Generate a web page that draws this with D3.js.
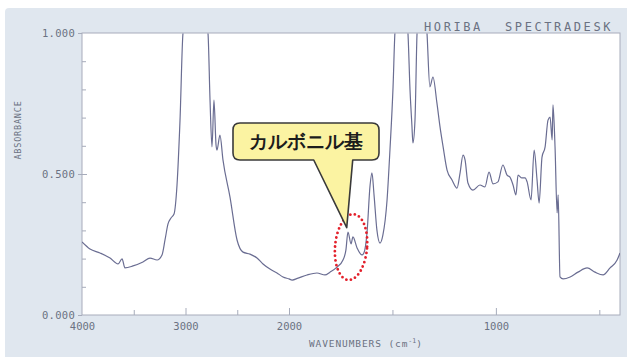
<!DOCTYPE html>
<html>
<head>
<meta charset="utf-8">
<script src="https://cdn.jsdelivr.net/npm/d3@7"></script>
<style>
  html, body { margin: 0; padding: 0; background: #ffffff; }
  svg { display: block; }
  text { font-family: "DejaVu Sans Mono", "Liberation Mono", monospace; }
</style>
</head>
<body>
<svg id="chart" width="627" height="357"></svg>
<script>
// ---- data ----
const wavenumbers = [4000,3923,3826,3729,3652,3613,3585,3507,3411,3343,3275,3227,3198,3169,3140,3111,3082,3053,3024,2900,2783,2763,2744,2725,2705,2696,2667,2638,2570,2502,2444,2377,2309,2251,2184,2116,2058,2000,1985,1956,1913,1865,1826,1802,1768,1739,1725,1715,1700,1691,1671,1647,1638,1623,1608,1599,1589,1575,1560,1546,1526,1512,1497,1488,1455,1425,1415,1406,1401,1391,1381,1357,1333,1319,1304,1285,1270,1255,1236,1212,1188,1173,1159,1149,1135,1111,1077,1053,1033,1014,990,966,946,932,917,903,893,874,859,849,830,815,801,791,777,762,748,738,728,724,714,704,699,690,675,641,603,559,521,482,448,414,400];
const absorbance  = [0.259,0.234,0.220,0.202,0.181,0.199,0.167,0.174,0.188,0.202,0.195,0.213,0.266,0.323,0.344,0.358,0.461,0.691,1.000,1.200,1.000,0.762,0.596,0.762,0.603,0.585,0.638,0.550,0.418,0.266,0.223,0.216,0.202,0.181,0.163,0.149,0.135,0.128,0.124,0.131,0.142,0.149,0.142,0.152,0.170,0.195,0.230,0.294,0.252,0.277,0.238,0.213,0.220,0.291,0.461,0.504,0.426,0.301,0.255,0.284,0.408,0.585,0.809,1.000,1.200,1.000,0.798,0.674,0.610,0.691,1.000,1.200,1.000,0.809,0.844,0.752,0.667,0.596,0.514,0.479,0.450,0.504,0.567,0.550,0.468,0.443,0.461,0.454,0.507,0.465,0.472,0.532,0.496,0.489,0.461,0.426,0.496,0.486,0.486,0.472,0.408,0.585,0.479,0.397,0.560,0.596,0.691,0.702,0.621,0.745,0.596,0.362,0.426,0.135,0.128,0.135,0.152,0.167,0.152,0.142,0.167,0.195,0.220];

const xBreaks      = [4000, 2000, 400];          // split wavenumber axis
const xMajorTicks  = [3000, 2000, 1000];
const xMinorTicks  = [3500, 2500, 1500, 500];
const xTickLabels  = [4000, 3000, 2000, 1000];
const yMajorTicks  = [0, 0.5, 1];
const yMinorTicks  = [0.1, 0.2, 0.3, 0.4, 0.6, 0.7, 0.8, 0.9];

const calloutText   = "カルボニル基";
const calloutTarget = [1721, 0.31];   // wavenumber, absorbance at pointer tip
const ellipseCenter = [1700, 0.241];

// ---- layout ----
const svg = d3.select("#chart");
const pL = 82, pR = 620, pT = 33, pB = 315;

const x = d3.scaleLinear().domain(xBreaks).range([pL, 289, pR]);
const y = d3.scaleLinear().domain([0, 1]).range([pB, pT]);

const textCol = "#6b7282";
const frameCol = "#a7acbb";

// panel background
svg.append("rect").attr("x", 5).attr("y", 8).attr("width", 640).attr("height", 360)
  .attr("rx", 4).attr("fill", "#e0e7ef");

// plot area
svg.append("rect").attr("x", pL).attr("y", pT)
  .attr("width", pR - pL).attr("height", pB - pT)
  .attr("fill", "#ffffff").attr("stroke", frameCol).attr("stroke-width", 1);

svg.append("clipPath").attr("id", "plotclip")
  .append("rect").attr("x", pL).attr("y", pT + 0.5)
  .attr("width", pR - pL).attr("height", pB - pT);

// x axis ticks
const xAxisMajor = d3.axisBottom(x).tickValues(xMajorTicks).tickSize(-7).tickFormat("");
const xAxisMinor = d3.axisBottom(x).tickValues(xMinorTicks).tickSize(-5).tickFormat("");
const xAxisLabels = d3.axisBottom(x).tickValues(xTickLabels).tickSize(0).tickPadding(8).tickFormat(d3.format("d"));
[xAxisMajor, xAxisMinor, xAxisLabels].forEach(ax => {
  const g = svg.append("g").attr("transform", `translate(0,${pB})`).call(ax);
  g.select(".domain").remove();
  g.selectAll("line").attr("stroke", frameCol);
  g.selectAll("text").attr("fill", textCol).attr("font-size", 10.5)
    .attr("font-family", "DejaVu Sans Mono, monospace");
});

// y axis ticks
const yAxisMinor = d3.axisLeft(y).tickValues(yMinorTicks).tickSize(-4).tickFormat("");
const yAxisMajor = d3.axisLeft(y).tickValues(yMajorTicks).tickSize(4).tickPadding(3).tickFormat(d3.format(".3f"));
const yAxisMid = d3.axisLeft(y).tickValues([0.5]).tickSize(-5).tickFormat("");
[yAxisMinor, yAxisMajor, yAxisMid].forEach(ax => {
  const g = svg.append("g").attr("transform", `translate(${pL},0)`).call(ax);
  g.select(".domain").remove();
  g.selectAll("line").attr("stroke", frameCol);
  g.selectAll("text").attr("fill", textCol).attr("font-size", 10.5)
    .attr("font-family", "DejaVu Sans Mono, monospace").attr("letter-spacing", 0.3);
});

// axis titles
svg.append("text").attr("transform", "translate(21,130) rotate(-90)")
  .attr("text-anchor", "middle").attr("font-size", 8.5).attr("fill", textCol)
  .attr("letter-spacing", 0.8).text("ABSORBANCE");

const xt = svg.append("text").attr("x", 309).attr("y", 347)
  .attr("font-size", 9.5).attr("fill", textCol).attr("letter-spacing", 0.9);
xt.append("tspan").text("WAVENUMBERS (cm");
xt.append("tspan").attr("font-size", 6.5).attr("dy", -4).attr("letter-spacing", 0).text("-1");
xt.append("tspan").attr("dy", 4).text(")");

// header
svg.append("text").attr("x", 424).attr("y", 31).attr("font-size", 12)
  .attr("fill", textCol).attr("letter-spacing", 2.6).text("HORIBA");
svg.append("text").attr("x", 505).attr("y", 31).attr("font-size", 12)
  .attr("fill", textCol).attr("letter-spacing", 2.6).text("SPECTRADESK");

// spectrum
const points = wavenumbers.map((w, i) => [w, absorbance[i]]);
const line = d3.line().x(d => x(d[0])).y(d => y(d[1])).curve(d3.curveMonotoneX);
svg.append("path").datum(points)
  .attr("clip-path", "url(#plotclip)")
  .attr("d", line).attr("fill", "none")
  .attr("stroke", "#6a6d92").attr("stroke-width", 1.2).attr("stroke-linejoin", "round");

// red dotted ellipse
svg.append("ellipse")
  .attr("transform", `translate(${x(ellipseCenter[0])},${y(ellipseCenter[1])}) rotate(5)`)
  .attr("rx", 16).attr("ry", 33)
  .attr("fill", "none").attr("stroke", "#e3202b").attr("stroke-width", 2.8)
  .attr("stroke-dasharray", "0 4.6").attr("stroke-linecap", "round");

// callout
const tipX = x(calloutTarget[0]), tipY = y(calloutTarget[1]);
const bx0 = 233, by0 = 123, bx1 = 379, by1 = 160, r = 7;
const p = d3.path();
p.moveTo(bx0 + r, by0);
p.lineTo(bx1 - r, by0);
p.quadraticCurveTo(bx1, by0, bx1, by0 + r);
p.lineTo(bx1, by1 - r);
p.quadraticCurveTo(bx1, by1, bx1 - r, by1);
p.lineTo(tipX + 6, by1);
p.lineTo(tipX, tipY);
p.lineTo(tipX - 33, by1);
p.lineTo(bx0 + r, by1);
p.quadraticCurveTo(bx0, by1, bx0, by1 - r);
p.lineTo(bx0, by0 + r);
p.quadraticCurveTo(bx0, by0, bx0 + r, by0);
p.closePath();
svg.append("path").attr("d", p.toString())
  .attr("fill", "#fbf3a2").attr("stroke", "#3a3a3a").attr("stroke-width", 1.6)
  .attr("stroke-linejoin", "round");
svg.append("text").attr("x", (bx0 + bx1) / 2).attr("y", 148)
  .attr("text-anchor", "middle").attr("font-size", 18.5).attr("font-weight", 700)
  .attr("font-family", "Noto Sans CJK JP, sans-serif").attr("fill", "#1c1c1c")
  .text(calloutText);
</script>
</body>
</html>
